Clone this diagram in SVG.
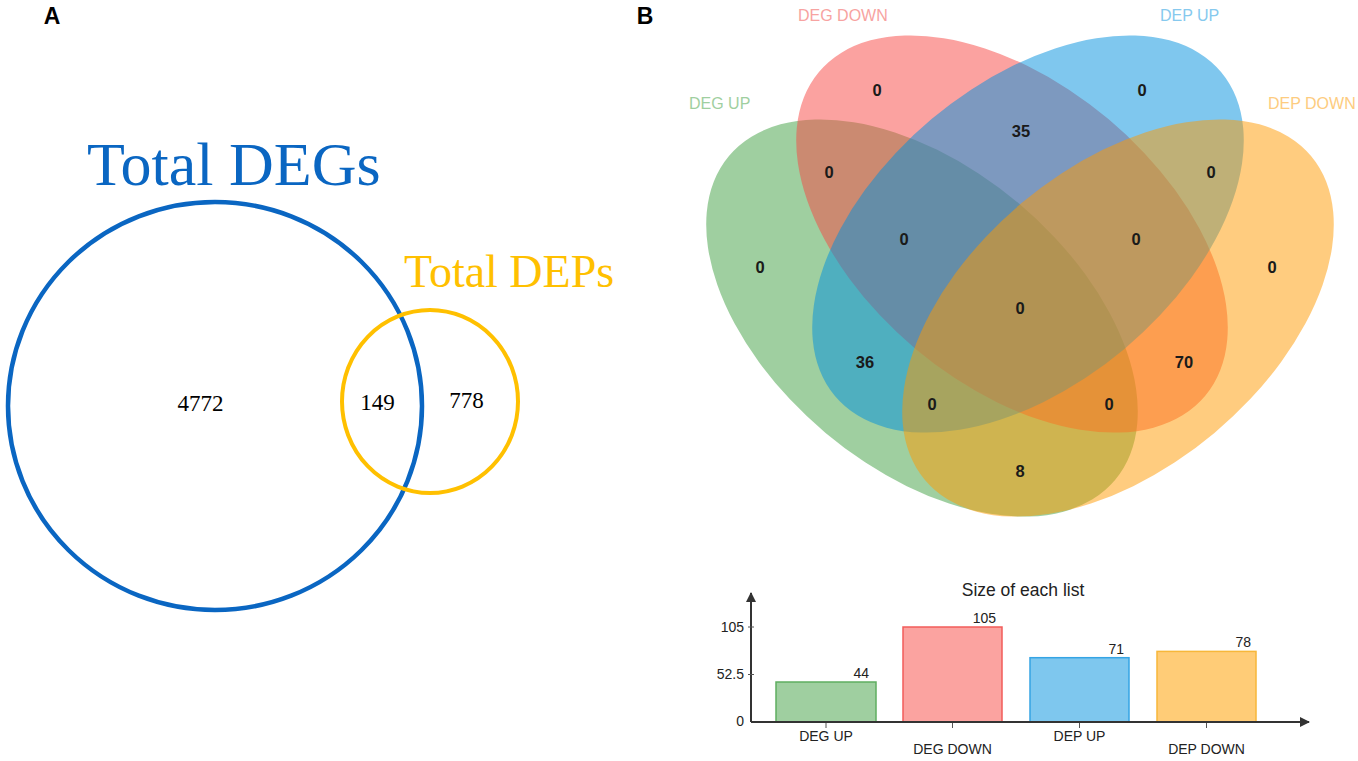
<svg xmlns="http://www.w3.org/2000/svg" width="1358" height="761" viewBox="0 0 1358 761">
  <defs>
    <marker id="arr" viewBox="0 0 10 10" refX="9" refY="5" markerWidth="10" markerHeight="10" markerUnits="userSpaceOnUse" orient="auto">
      <path d="M0,0 L10,5 L0,10 z" fill="#333"/>
    </marker>
  </defs>
  <style>
    .panel { font-family: "Liberation Sans", Arial, sans-serif; font-weight: bold; font-size: 23px; fill: #000; }
    .serif { font-family: "Liberation Serif", "Times New Roman", serif; }
    .num { font-family: "Liberation Serif", "Times New Roman", serif; font-size: 23px; fill: #000; text-anchor: middle; }
    .vlab { font-family: "Liberation Sans", Arial, sans-serif; font-size: 16px; }
    .rnum { font-family: "Liberation Sans", Arial, sans-serif; font-size: 16.5px; font-weight: bold; fill: #1a1a1a; text-anchor: middle; }
    .ell { fill-opacity: 0.5; stroke: none; }
    .axis { stroke: #333; stroke-width: 2; fill: none; }
    .tick { stroke: #555; stroke-width: 1; }
    .ctext { font-family: "Liberation Sans", Arial, sans-serif; font-size: 14px; fill: #222; }
    .bar { stroke-width: 1.5; }
  </style>
  <rect width="1358" height="761" fill="#fff"/>

  <!-- Panel labels -->
  <text class="panel" x="52" y="24" text-anchor="middle">A</text>
  <text class="panel" x="645" y="24" text-anchor="middle">B</text>

  <!-- Panel A: two-set Venn -->
  <g id="setDEGs">
    <ellipse cx="215" cy="406" rx="207" ry="204" fill="none" stroke="#0a66c2" stroke-width="4.5"/>
    <text class="serif" x="87" y="185" font-size="62" fill="#0a66c2">Total DEGs</text>
  </g>
  <g id="setDEPs">
    <ellipse cx="430" cy="401.5" rx="88" ry="91.5" fill="none" stroke="#ffc000" stroke-width="4"/>
    <text class="serif" x="404" y="287" font-size="46" fill="#ffc000">Total DEPs</text>
  </g>
  <g id="countsA">
    <text class="num" x="200.5" y="411">4772</text>
    <text class="num" x="377.5" y="410">149</text>
    <text class="num" x="466.5" y="408">778</text>
  </g>

  <!-- Panel B: four-set Venn -->
  <g id="vennB">
    <g id="degUp">
      <ellipse class="ell" cx="922" cy="318" rx="252" ry="150" transform="rotate(40 922 318)" fill="#3f9f41"/>
      <text class="vlab" x="689" y="109" fill="#9fcfa0">DEG UP</text>
    </g>
    <g id="degDown">
      <ellipse class="ell" cx="1012" cy="234" rx="252" ry="150" transform="rotate(40 1012 234)" fill="#f74541"/>
      <text class="vlab" x="798" y="21" fill="#f7a3a1">DEG DOWN</text>
    </g>
    <g id="depUp">
      <ellipse class="ell" cx="1028" cy="234" rx="252" ry="150" transform="rotate(-40 1028 234)" fill="#008fdd"/>
      <text class="vlab" x="1160" y="21" fill="#86c9ee">DEP UP</text>
    </g>
    <g id="depDown">
      <ellipse class="ell" cx="1118" cy="318" rx="252" ry="150" transform="rotate(-40 1118 318)" fill="#ff9900"/>
      <text class="vlab" x="1268" y="109" fill="#fdcc80">DEP DOWN</text>
    </g>
    <g id="regionCounts">
      <text class="rnum" x="877" y="96">0</text>
      <text class="rnum" x="1021" y="137">35</text>
      <text class="rnum" x="1142" y="96">0</text>
      <text class="rnum" x="829" y="178">0</text>
      <text class="rnum" x="1211" y="178">0</text>
      <text class="rnum" x="904" y="245">0</text>
      <text class="rnum" x="1136" y="245">0</text>
      <text class="rnum" x="760" y="273">0</text>
      <text class="rnum" x="1272" y="273">0</text>
      <text class="rnum" x="1020" y="314">0</text>
      <text class="rnum" x="865" y="368">36</text>
      <text class="rnum" x="1184" y="368">70</text>
      <text class="rnum" x="932" y="410">0</text>
      <text class="rnum" x="1109" y="410">0</text>
      <text class="rnum" x="1020" y="477">8</text>
    </g>
  </g>

  <!-- Bar chart -->
  <g id="barChart">
    <text x="1023" y="596" text-anchor="middle" font-family="Liberation Sans, Arial, sans-serif" font-size="17.5" fill="#222">Size of each list</text>
    <g id="bars">
      <rect class="bar" x="776" y="682" width="100" height="40" fill="#9fcfa0" stroke="#5fae60"/>
      <rect class="bar" x="903" y="627" width="99" height="95" fill="#fba3a0" stroke="#f25c5a"/>
      <rect class="bar" x="1030" y="657.7" width="99" height="64.3" fill="#7ec7ee" stroke="#35a4e4"/>
      <rect class="bar" x="1157" y="651.4" width="99" height="70.6" fill="#ffcc77" stroke="#f7b73a"/>
    </g>
    <g id="axes">
      <line class="axis" x1="751" y1="722" x2="751" y2="593" marker-end="url(#arr)"/>
      <line class="axis" x1="751" y1="722" x2="1309" y2="722" marker-end="url(#arr)"/>
      <line class="tick" x1="748" y1="627" x2="754" y2="627"/>
      <line class="tick" x1="748" y1="674.5" x2="754" y2="674.5"/>
      <line class="tick" x1="826" y1="723" x2="826" y2="728"/>
      <line class="tick" x1="952.5" y1="723" x2="952.5" y2="728"/>
      <line class="tick" x1="1079.5" y1="723" x2="1079.5" y2="728"/>
      <line class="tick" x1="1206.5" y1="723" x2="1206.5" y2="728"/>
    </g>
    <g id="yTicks" class="ctext" text-anchor="end">
      <text x="744" y="632">105</text>
      <text x="744" y="679">52.5</text>
      <text x="744" y="726">0</text>
    </g>
    <g id="valueLabels" class="ctext" text-anchor="end">
      <text x="869" y="678">44</text>
      <text x="996" y="623">105</text>
      <text x="1124" y="654">71</text>
      <text x="1251" y="647">78</text>
    </g>
    <g id="categoryLabels" class="ctext" text-anchor="middle">
      <text x="826" y="741">DEG UP</text>
      <text x="952.5" y="754">DEG DOWN</text>
      <text x="1079.5" y="741">DEP UP</text>
      <text x="1206.5" y="754">DEP DOWN</text>
    </g>
  </g>
</svg>
